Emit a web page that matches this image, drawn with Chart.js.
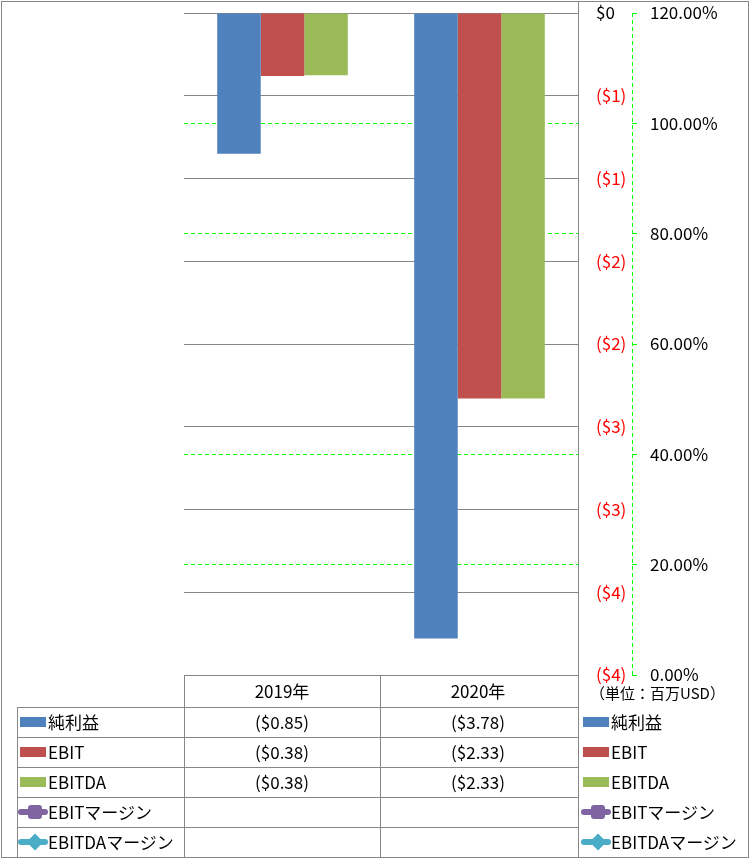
<!DOCTYPE html>
<html>
<head>
<meta charset="utf-8">
<script src="https://cdn.jsdelivr.net/npm/chart.js@4.4.0/dist/chart.umd.min.js"></script>
<style>
    body { margin: 0; background: #fff; }
    #wrap { position: relative; width: 749px; height: 858px; font-family: "Noto Sans CJK JP", sans-serif; color: #000; }
    #chart { position: absolute; left: 0; top: 0; }
    .ln { position: absolute; background: #868686; }
    .cell { position: absolute; font-size: 17px; line-height: 30px; white-space: nowrap; }
    .key { position: absolute; }
</style>
</head>
<body>
<div id="wrap">
    <canvas id="chart" width="749" height="858"></canvas>
</div>
<script>
// Chart data
const years = ['2019年', '2020年'];
const seriesNames = ['純利益', 'EBIT', 'EBITDA', 'EBITマージン', 'EBITDAマージン'];
const netIncome = [-0.85, -3.78];
const ebit = [-0.38, -2.33];
const ebitda = [-0.376, -2.33];
const ebitMargin = [null, null];
const ebitdaMargin = [null, null];
const moneyTickLabels = ['$0', '($1)', '($1)', '($2)', '($2)', '($3)', '($3)', '($4)', '($4)'];
const unitLabel = '（単位：百万USD）';

const COLORS = ['#4F81BD', '#C0504D', '#9BBB59', '#8064A2', '#4BACC6'];
const GRAY = '#868686';
const GREEN = '#00FF00';

// dashed axis line for the percent scale (Chart.js draws borders solid)
const dashedAxis = {
    id: 'dashedAxis',
    afterDraw(chart) {
        const s = chart.scales.y1;
        const c = chart.ctx;
        c.save();
        c.strokeStyle = GREEN;
        c.lineWidth = 1;
        c.setLineDash([4, 3]);
        c.beginPath();
        c.moveTo(s.left + 0.5, chart.chartArea.top);
        c.lineTo(s.left + 0.5, chart.chartArea.bottom);
        c.stroke();
        c.restore();
    }
};

// Main chart
const ctx = document.getElementById('chart');
new Chart(ctx, {
    type: 'bar',
    data: {
        labels: years,
        datasets: [
            { label: seriesNames[0], data: netIncome, backgroundColor: COLORS[0], yAxisID: 'y' },
            { label: seriesNames[1], data: ebit, backgroundColor: COLORS[1], yAxisID: 'y' },
            { label: seriesNames[2], data: ebitda, backgroundColor: COLORS[2], yAxisID: 'y' },
            { type: 'line', label: seriesNames[3], data: ebitMargin, borderColor: COLORS[3], yAxisID: 'y1' },
            { type: 'line', label: seriesNames[4], data: ebitdaMargin, borderColor: COLORS[4], yAxisID: 'y1' }
        ]
    },
    options: {
        responsive: false,
        animation: false,
        layout: { padding: { left: 184, top: 13, right: 0, bottom: 183 } },
        datasets: { bar: { barPercentage: 1, categoryPercentage: 0.663 } },
        plugins: { legend: { display: false }, tooltip: { enabled: false } },
        scales: {
            x: { display: false },
            y: {
                position: 'right',
                min: -4,
                max: 0,
                afterFit: s => { s.width = 54; s.paddingTop = 0; s.paddingBottom = 0; },
                grid: { color: GRAY, lineWidth: 1, drawTicks: false, z: 0 },
                border: { display: false },
                ticks: {
                    stepSize: 0.5,
                    padding: 18,
                    font: { family: 'Noto Sans CJK JP', size: 17 },
                    color: c => (c.tick && c.tick.value < 0 ? '#FF0000' : '#000000'),
                    callback: v => moneyTickLabels[Math.round(-v * 2)]
                }
            },
            y1: {
                position: 'right',
                min: 0,
                max: 1.2,
                afterFit: s => { s.width = 117; s.paddingTop = 0; s.paddingBottom = 0; },
                grid: { color: GREEN, lineWidth: 1, tickLength: 5, tickBorderDash: [], z: -1 },
                border: { display: false, dash: [4, 3] },
                ticks: {
                    stepSize: 0.2,
                    padding: 13,
                    font: { family: 'Noto Sans CJK JP', size: 17 },
                    color: '#000000',
                    callback: v => (v * 100).toFixed(2) + '%'
                }
            }
        }
    },
    plugins: [dashedAxis]
});

// Data table and legends (HTML)
const wrap = document.getElementById('wrap');

function addLine(x, y, w, h) {
    const d = document.createElement('div');
    d.className = 'ln';
    Object.assign(d.style, { left: x + 'px', top: y + 'px', width: w + 'px', height: h + 'px' });
    wrap.appendChild(d);
}

function addText(text, x, y, w, align) {
    const d = document.createElement('div');
    d.className = 'cell';
    d.textContent = text;
    Object.assign(d.style, { left: x + 'px', top: y + 'px', width: w + 'px', textAlign: align || 'left' });
    wrap.appendChild(d);
}

function addKey(i, x, cy) {
    const k = document.createElement('div');
    k.className = 'key';
    if (i < 3) {
        Object.assign(k.style, { left: x + 'px', top: (cy - 5) + 'px', width: '26px', height: '10px', background: COLORS[i] });
        wrap.appendChild(k);
        return;
    }
    Object.assign(k.style, { left: (x - 2) + 'px', top: (cy - 3) + 'px', width: '30px', height: '6px', background: COLORS[i], borderRadius: '3px' });
    wrap.appendChild(k);
    const m = document.createElement('div');
    m.className = 'key';
    if (i === 3) {
        Object.assign(m.style, { left: (x + 8) + 'px', top: (cy - 7) + 'px', width: '14px', height: '14px', background: COLORS[i], borderRadius: '3px' });
    } else {
        Object.assign(m.style, { left: (x + 9) + 'px', top: (cy - 6) + 'px', width: '12px', height: '12px', background: COLORS[i], transform: 'rotate(45deg)' });
    }
    wrap.appendChild(m);
}

// outer border and chart right edge
const frame = document.createElement('div');
Object.assign(frame.style, { position: 'absolute', left: '1px', top: '1px', width: '746px', height: '855px', border: '1px solid ' + GRAY });
wrap.appendChild(frame);
addLine(578, 1, 1, 857);

// table grid
const rowTops = [707, 737, 767, 797, 827];
addLine(184, 675, 395, 1);
rowTops.forEach(t => addLine(17, t, 562, 1));
addLine(17, 707, 1, 151);
addLine(184, 675, 1, 183);
addLine(380, 675, 1, 183);

// header
years.forEach((y, i) => addText(y, 184 + i * 196, 676, 196, 'center'));
const unit = document.createElement('div');
unit.className = 'cell';
unit.textContent = unitLabel;
Object.assign(unit.style, { left: '590px', top: '678px', fontSize: '15px' });
wrap.appendChild(unit);

// rows
const tableSeries = [netIncome, ebit, ebitda, ebitMargin, ebitdaMargin];
const fmt = v => (v === null ? '' : (v < 0 ? '($' + Math.abs(v).toFixed(2) + ')' : '$' + v.toFixed(2)));
tableSeries.forEach((vals, r) => {
    const top = rowTops[r];
    const cy = top + 15;
    addKey(r, 20, cy);
    addText(seriesNames[r], 48, top, 130);
    vals.forEach((v, c) => addText(fmt(v), 184 + c * 196, top, 196, 'center'));
    addKey(r, 583, cy);
    addText(seriesNames[r], 611, top, 138);
});
</script>
</body>
</html>
